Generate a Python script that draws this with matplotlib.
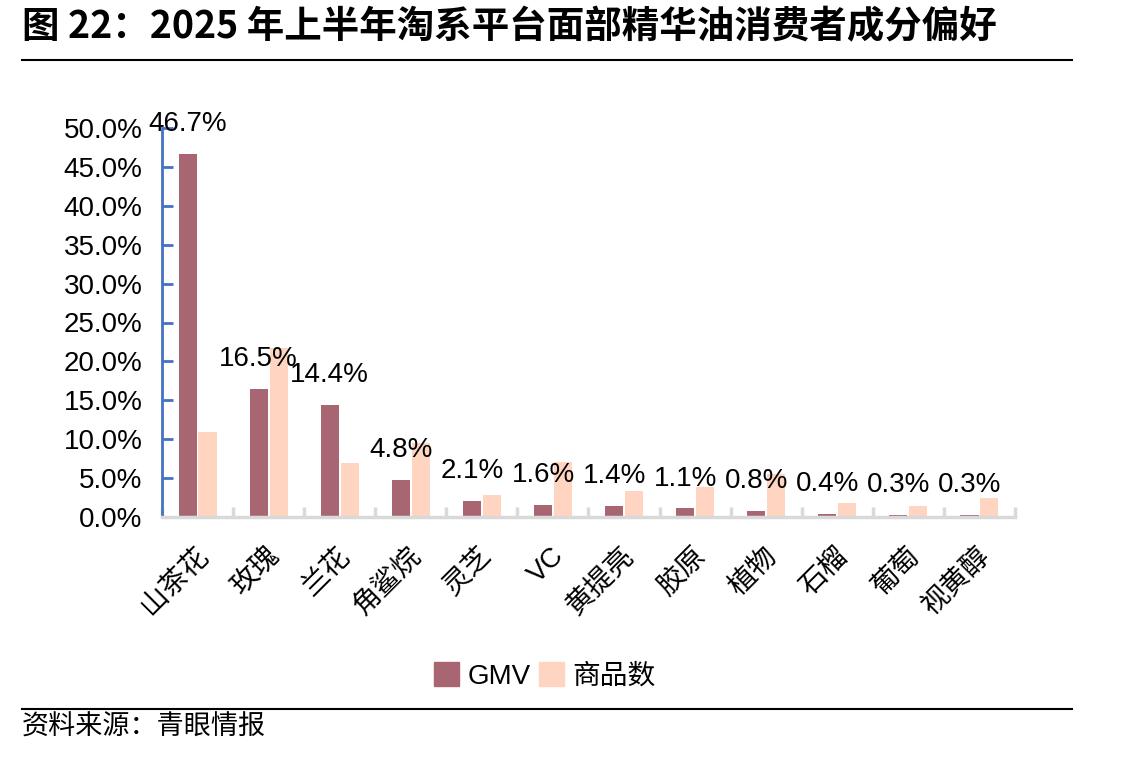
import numpy as np
import matplotlib
matplotlib.use("Agg")
import matplotlib.pyplot as plt
from matplotlib.lines import Line2D
from matplotlib.patches import Patch
from matplotlib.ticker import FuncFormatter

plt.rcParams['font.family'] = ['Liberation Sans', 'Noto Sans CJK SC', 'DejaVu Sans']

# ==============================
# DATA
# ==============================
categories = ["山茶花", "玫瑰", "兰花", "角鲨烷", "灵芝", "VC",
              "黄提亮", "胶原", "植物", "石榴", "葡萄", "视黄醇"]
gmv = [46.7, 16.5, 14.4, 4.8, 2.1, 1.6, 1.4, 1.1, 0.8, 0.4, 0.3, 0.3]
item_count = [10.9, 21.7, 7.0, 9.5, 2.8, 7.1, 3.3, 3.8, 5.5, 1.8, 1.4, 2.5]
series_names = ["GMV", "商品数"]
title = "图 22：2025 年上半年淘系平台面部精华油消费者成分偏好"
source = "资料来源：青眼情报"

c_gmv = "#A86673"
c_cnt = "#FFD5C2"

W, H = 1143, 757
fig = plt.figure(figsize=(W / 100, H / 100), dpi=100)
ax = fig.add_axes([162 / W, 1 - 517 / H, (1015 - 162) / W, 389 / H])

x = np.arange(len(categories)) + 0.5
bw = 0.255
ax.bar(x - 0.14, np.array(gmv) / 100, bw, color=c_gmv, label=series_names[0])
ax.bar(x + 0.14, np.array(item_count) / 100, bw, color=c_cnt, label=series_names[1])

# data labels (GMV)
for xi, v in zip(x - 0.14, gmv):
    ax.annotate(f"{v:.1f}%", (xi, v / 100), xytext=(0, 12), textcoords="offset points",
                ha="center", va="bottom", fontsize=20, color="black",
                annotation_clip=False)

ax.set_xlim(0, len(categories))
ax.set_ylim(0, 0.5)
ax.set_yticks(np.arange(0, 0.501, 0.05))
ax.yaxis.set_major_formatter(FuncFormatter(lambda v, p: f"{v * 100:.1f}%"))
ax.tick_params(axis="y", direction="in", length=8, width=2, color="#4472C4",
               labelsize=20, pad=14)

ax.set_xticks(np.arange(0, len(categories) + 1))
ax.set_xticklabels([])
ax.tick_params(axis="x", direction="in", length=7, width=2.5, color="#D9D9D9")
for xi, lab in zip(x, categories):
    ax.text(xi + 0.1, -0.045, lab, rotation=45, ha="right", va="center",
            rotation_mode="anchor", fontsize=20,
            family=['Liberation Sans', 'Noto Sans CJK SC'],
            transform=ax.transData, clip_on=False)

for s in ["top", "right"]:
    ax.spines[s].set_visible(False)
ax.spines["left"].set_color("#4472C4")
ax.spines["left"].set_linewidth(2)
ax.spines["bottom"].set_color("#D9D9D9")
ax.spines["bottom"].set_linewidth(2.5)

# legend
handles = [Patch(color=c_gmv), Patch(color=c_cnt)]
fig.legend(handles, series_names, loc="center", bbox_to_anchor=(545 / W, 1 - 676 / H),
           ncol=2, frameon=False, fontsize=20, handlelength=0.9, handleheight=0.9,
           handletextpad=0.3, columnspacing=0.3)

# title, rules, source
fig.text(22 / W, 1 - 27 / H, title, fontsize=27, fontweight="bold",
         ha="left", va="center", family=['Noto Sans CJK SC'])
fig.add_artist(Line2D([22 / W, 1072 / W], [1 - 60 / H] * 2, color="black", lw=1.5))
fig.add_artist(Line2D([22 / W, 1072 / W], [1 - 709 / H] * 2, color="black", lw=1.5))
fig.text(22 / W, 1 - 727 / H, source, fontsize=19.5, ha="left", va="center",
         family=['Noto Sans CJK SC'])

fig.savefig("out.png", dpi=100)
